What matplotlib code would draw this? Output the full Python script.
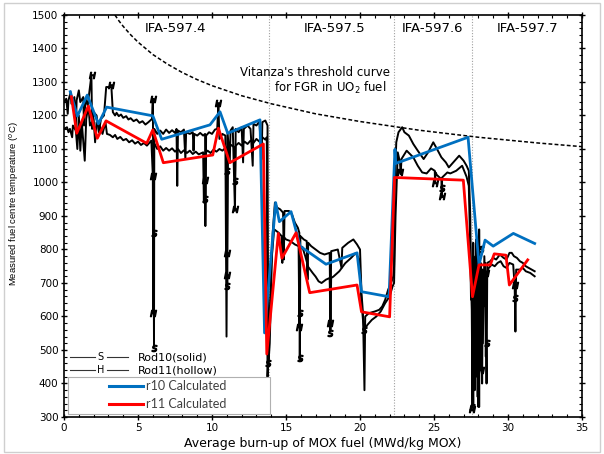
import matplotlib
matplotlib.use("Agg")
import matplotlib.pyplot as plt
from matplotlib.patches import Rectangle

# measured centre temperature, rod 10 (solid), per campaign
bu_rod10_c4 = [0.0, 0.15, 0.25, 0.3, 0.45, 0.5, 0.7, 0.8, 0.85, 1.0,
               1.1, 1.3, 1.35, 1.45, 1.6, 1.85, 1.9, 2.0, 2.2, 2.35,
               2.5, 2.7, 2.85, 3.2, 3.3, 3.45, 3.55, 3.7, 3.85, 4.0,
               4.2, 4.35, 4.5, 4.7, 4.9, 5.1, 5.3, 5.5, 5.7, 5.95,
               6.0, 6.05, 6.08, 6.1, 6.3, 6.5, 6.7, 6.9, 7.1, 7.3,
               7.5, 7.6, 7.65, 7.7, 7.9, 8.1, 8.2, 8.25, 8.5, 8.7,
               8.75, 8.8, 9.0, 9.2, 9.4, 9.53, 9.55, 9.6, 9.8, 10.0,
               10.2, 10.35, 10.43, 10.5, 10.7, 10.9, 10.98, 11.05, 11.2, 11.25,
               11.4, 11.55, 11.6, 11.8, 12.0, 12.1, 12.15, 12.4, 12.6, 12.75,
               12.8, 13.0, 13.2, 13.35, 13.4, 13.6, 13.75]
t_rod10_c4 = [1240, 1250, 1205, 1245, 1270, 1235, 1255, 1150, 1245, 1275,
              1240, 1255, 1170, 1250, 1230, 1320, 1160, 1210, 1200, 1150,
              1190, 1200, 1285, 1285, 1210, 1200, 1208, 1198, 1203, 1193,
              1198, 1188, 1192, 1183, 1188, 1178, 1183, 1173, 1180, 1190,
              1250, 850, 510, 1160, 1145, 1155, 1145, 1158, 1148, 1156,
              1148, 1160, 990, 1155, 1150, 1158, 1070, 1150, 1145, 1150,
              1095, 1145, 1140, 1148, 1140, 1145, 870, 1140, 1150, 1145,
              1158, 1160, 1235, 1130, 1145, 1140, 540, 1150, 1060, 1155,
              1165, 915, 1160, 1150, 1165, 1060, 1160, 1170, 1160, 1050,
              1175, 1170, 1182, 1070, 1180, 1185, 1170]
bu_rod10_c5 = [13.8, 13.9, 14.0, 14.1, 14.25, 14.4, 14.6, 14.8, 14.85, 14.9,
               15.2, 15.4, 15.6, 15.8, 15.9, 15.93, 15.97, 16.2, 16.4, 16.45,
               16.5, 16.7, 17.0, 17.3, 17.6, 17.95, 18.0, 18.05, 18.5, 18.75,
               18.8, 19.2, 19.55, 19.8, 20.0, 20.1, 20.2, 20.3, 20.35, 20.6,
               21.0, 21.3, 21.5, 21.7, 21.9, 22.1, 22.25]
t_rod10_c5 = [450, 520, 700, 850, 940, 925, 920, 910, 770, 915,
              915, 905, 880, 865, 850, 470, 840, 830, 825, 710,
              820, 810, 800, 790, 785, 790, 560, 795, 800, 745,
              805, 820, 830, 815, 800, 670, 610, 380, 600, 610,
              615, 620, 630, 650, 680, 700, 720]
bu_rod10_c6 = [22.3, 22.35, 22.45, 22.6, 22.85, 23.0, 23.3, 23.6, 23.9, 24.3,
               24.6, 24.95, 25.2, 25.5, 25.8, 26.0, 26.3, 26.7, 27.0, 27.2,
               27.35, 27.45, 27.5]
t_rod10_c6 = [750, 1000, 1120, 1150, 1165, 1150, 1140, 1115, 1095, 1070,
              1090, 1120, 1100, 1075, 1060, 1045, 1060, 1080, 1065, 1050,
              1035, 900, 700]
bu_rod10_c7 = [27.55, 27.6, 27.65, 27.7, 27.75, 27.8, 27.85, 27.9, 27.95, 28.0,
               28.05, 28.1, 28.15, 28.2, 28.25, 28.3, 28.4, 28.5, 28.55, 28.6,
               28.8, 29.0, 29.2, 29.45, 29.7, 29.9, 30.1, 30.25, 30.4, 30.6,
               30.8, 31.0, 31.2, 31.4, 31.6, 31.8]
t_rod10_c7 = [620, 330, 820, 480, 760, 560, 830, 420, 700, 330,
              860, 600, 760, 450, 740, 520, 780, 620, 400, 760,
              765, 775, 770, 785, 775, 770, 790, 790, 780, 775,
              765, 760, 750, 745, 740, 735]

# measured centre temperature, rod 11 (hollow), per campaign
bu_rod11_c4 = [0.0, 0.2, 0.3, 0.4, 0.55, 0.6, 0.8, 0.9, 1.0, 1.1,
               1.2, 1.4, 1.5, 1.65, 1.75, 2.0, 2.1, 2.2, 2.4, 2.6,
               2.8, 2.9, 3.1, 3.3, 3.45, 3.6, 3.8, 4.0, 4.2, 4.4,
               4.6, 4.8, 5.0, 5.2, 5.4, 5.6, 5.9, 6.0, 6.03, 6.06,
               6.3, 6.5, 6.7, 6.9, 7.1, 7.3, 7.5, 7.7, 7.9, 8.1,
               8.3, 8.5, 8.7, 8.9, 9.1, 9.4, 9.45, 9.5, 9.7, 9.9,
               10.1, 10.3, 10.5, 10.7, 10.95, 11.0, 11.03, 11.08, 11.3, 11.5,
               11.55, 11.6, 11.8, 12.0, 12.2, 12.4, 12.6, 12.8, 13.0, 13.2,
               13.4, 13.6, 13.7, 13.75, 13.8]
t_rod11_c4 = [1160, 1165, 1150, 1160, 1135, 1170, 1155, 1100, 1200, 1095,
              1180, 1065, 1190, 1230, 1170, 1190, 1120, 1180, 1170, 1145,
              1180, 1145, 1142, 1135, 1142, 1130, 1136, 1126, 1130, 1120,
              1126, 1116, 1122, 1112, 1118, 1110, 1125, 1020, 610, 1120,
              1100, 1108, 1095, 1103, 1095, 1102, 1092, 1100, 1088, 1096,
              1088, 1095, 1085, 1092, 1084, 1090, 940, 1085, 1095, 1088,
              1098, 1092, 1100, 1095, 1105, 790, 690, 1100, 1112, 1105,
              1000, 1110, 1118, 1110, 1122, 1115, 1125, 1118, 1130, 1122,
              1135, 1128, 1135, 420, 470]
bu_rod11_c5 = [13.9, 14.0, 14.2, 14.5, 14.7, 14.75, 14.8, 15.0, 15.3, 15.6,
               15.85, 15.9, 15.95, 16.1, 16.3, 16.5, 16.8, 17.0, 17.2, 17.4,
               17.7, 17.95, 18.0, 18.05, 18.2, 18.6, 19.0, 19.4, 19.7, 19.95,
               20.1, 20.2, 20.3, 20.5, 20.8, 21.1, 21.4, 21.7, 22.0, 22.2]
t_rod11_c5 = [600, 760, 860, 850, 840, 760, 840, 830, 825, 815,
              810, 570, 800, 808, 780, 748, 730, 719, 705, 700,
              710, 715, 580, 715, 719, 735, 759, 775, 789, 770,
              640, 590, 560, 575, 590, 600, 615, 640, 660, 690]
bu_rod11_c6 = [22.3, 22.4, 22.55, 22.7, 22.75, 22.8, 23.15, 23.6, 23.9, 24.2,
               24.5, 24.8, 25.05, 25.07, 25.1, 25.2, 25.5, 25.52, 25.55, 25.9,
               26.1, 26.5, 26.9, 27.2, 27.35, 27.45, 27.5]
t_rod11_c6 = [700, 900, 1090, 1060, 1025, 1070, 1095, 1075, 1050, 1030,
              1027, 1042, 1035, 1000, 1030, 1022, 1010, 955, 1015, 1030,
              1027, 1035, 1050, 1017, 990, 800, 650]
bu_rod11_c7 = [27.55, 27.6, 27.65, 27.7, 27.75, 27.8, 27.85, 27.9, 27.95, 28.0,
               28.05, 28.1, 28.15, 28.2, 28.25, 28.3, 28.35, 28.45, 28.5, 28.55,
               28.7, 28.9, 29.1, 29.3, 29.5, 29.7, 29.9, 30.1, 30.35, 30.45,
               30.5, 30.55, 30.8, 31.0, 31.2, 31.5, 31.8]
t_rod11_c7 = [700, 560, 340, 700, 380, 780, 470, 740, 360, 790,
              330, 750, 560, 720, 400, 740, 630, 760, 480, 730,
              745, 755, 750, 760, 765, 750, 745, 760, 755, 690,
              555, 740, 740, 745, 735, 730, 720]

# "S" and "H" symbols on the measured traces
s_bu = [6.05, 6.08, 9.55, 11.0, 11.0, 11.55, 13.75, 15.93, 15.93, 18.0, 20.3, 25.52, 27.6, 27.7, 28.2, 28.55, 30.5]
s_t = [850, 505, 950, 1035, 690, 1005, 460, 610, 475, 550, 560, 985, 330, 440, 800, 520, 655]
h_bu = [1.87, 3.2, 6.04, 6.03, 6.03, 10.43, 9.5, 11.0, 11.0, 11.57, 15.9, 18.0, 22.7, 25.07, 25.52, 27.6, 28.2, 28.5, 30.5]
h_t = [1320, 1290, 1250, 1020, 610, 1238, 1007, 790, 725, 920, 570, 580, 1030, 998, 960, 325, 440, 730, 695]

# calculated centre temperatures
bu_r10_calc = [0.42, 0.9, 1.57, 2.32, 2.88, 6.0, 6.6, 9.86, 10.54, 11.06, 13.24, 13.55, 14.3, 14.55,
               15.34, 15.95, 17.7, 19.8, 20.1, 21.96, 22.36, 22.42, 27.3, 28.04, 28.45, 29.0, 30.36, 31.8]
t_r10_calc = [1271, 1198, 1261, 1175, 1225, 1199, 1129, 1172, 1211, 1147, 1187, 551, 940, 883,
              913, 810, 756, 790, 674, 659, 1099, 1057, 1135, 754, 828, 810, 848, 818]
bu_r11_calc = [0.5, 0.86, 1.64, 2.25, 2.84, 5.59, 6.0, 6.71, 10.05, 10.43, 11.2, 13.47, 13.7, 14.48,
               14.72, 15.68, 16.6, 19.8, 20.1, 22.0, 22.33, 26.98, 27.6, 28.04, 28.8, 29.07, 29.86, 30.09, 31.33]
t_r11_calc = [1256, 1147, 1228, 1132, 1184, 1117, 1157, 1059, 1082, 1162, 1059, 1115, 488, 848,
              774, 850, 671, 694, 614, 599, 1015, 1007, 659, 754, 754, 787, 783, 694, 769]

# Vitanza threshold curve
bu_vitanza = [3.44, 3.7, 4.0, 4.5, 5.0, 6.0, 7.0, 8.0, 9.0, 10.0, 12.0, 14.0, 17.0, 20.0, 24.0, 28.0, 32.0, 35.0]
t_vitanza = [1500, 1483, 1466, 1441, 1419, 1382, 1353, 1328, 1307, 1289, 1259, 1235, 1205, 1182, 1156, 1135, 1118, 1107]

# irradiation campaigns
campaign_edges = [13.85, 22.3, 27.6]
campaign_names = ["IFA-597.4", "IFA-597.5", "IFA-597.6", "IFA-597.7"]
campaign_centres = [7.5, 18.3, 24.9, 31.35]

bu_rod10 = bu_rod10_c4 + bu_rod10_c5 + bu_rod10_c6 + bu_rod10_c7
t_rod10 = t_rod10_c4 + t_rod10_c5 + t_rod10_c6 + t_rod10_c7
bu_rod11 = bu_rod11_c4 + bu_rod11_c5 + bu_rod11_c6 + bu_rod11_c7
t_rod11 = t_rod11_c4 + t_rod11_c5 + t_rod11_c6 + t_rod11_c7

fig = plt.figure(figsize=(6.04, 4.54), dpi=100)
fig.patches.append(Rectangle((0.006, 0.004), 0.988, 0.99, transform=fig.transFigure,
                             fill=False, edgecolor="#cfcfcf", linewidth=1.0))
ax = fig.add_axes([0.106, 0.0815, 0.8576, 0.8855])

font = "DejaVu Sans"

for e in campaign_edges:
    ax.axvline(e, color="#a0a0a0", linestyle=(0, (1, 1.5)), linewidth=0.8, zorder=1)

ax.plot(bu_vitanza, t_vitanza, color="black", linestyle=(0, (2.5, 1.5)), linewidth=1.1, zorder=2)

ax.plot(bu_rod10, t_rod10, color="black", linewidth=1.4, zorder=3)
ax.plot(bu_rod11, t_rod11, color="black", linewidth=1.4, zorder=3)
ax.plot(s_bu, s_t, linestyle="none", marker="$S$", markersize=4.5, color="black", zorder=3)
ax.plot(h_bu, h_t, linestyle="none", marker="$H$", markersize=4.5, color="black", zorder=3)

ax.plot(bu_r10_calc, t_r10_calc, color="#0070C0", linewidth=2.0, zorder=4)
ax.plot(bu_r11_calc, t_r11_calc, color="#FF0000", linewidth=2.0, zorder=4)

for name, xc in zip(campaign_names, campaign_centres):
    ax.text(xc, 1461, name, ha="center", va="center", fontsize=9.5, family=font)

ax.text(22.0, 1327, "Vitanza's threshold curve", ha="right", va="center", fontsize=8.5, family=font)
ax.text(21.8, 1283, "for FGR in UO$_2$ fuel", ha="right", va="center", fontsize=8.5, family=font)

ax.set_xlim(0, 35)
ax.set_ylim(300, 1500)
ax.set_xticks(range(0, 36, 5))
ax.set_xticks(range(0, 36, 1), minor=True)
ax.set_yticks(range(300, 1501, 100))
ax.set_yticks(range(300, 1501, 20), minor=True)
ax.tick_params(which="major", direction="inout", length=5, width=1.0, top=True, right=True,
               labelsize=7.5, pad=1.5)
ax.tick_params(which="minor", direction="in", length=2.5, width=0.8, top=True, right=True)
for lab in ax.get_xticklabels() + ax.get_yticklabels():
    lab.set_family(font)
for sp in ax.spines.values():
    sp.set_linewidth(1.2)

ax.set_xlabel("Average burn-up of MOX fuel (MWd/kg MOX)", fontsize=9, family=font, labelpad=3)
ax.set_ylabel("Measured fuel centre temperature ($^o$C)", fontsize=6.8, family="Liberation Sans")
ax.yaxis.set_label_coords(-0.083, 0.532)

# measured-rod legend rows
for ty, sym, lbl in [(0.149, "S", "Rod10(solid)"), (0.116, "H", "Rod11(hollow)")]:
    ax.plot([0.012, 0.06], [ty, ty], color="#333333", linewidth=0.8, transform=ax.transAxes)
    ax.plot([0.083, 0.124], [ty, ty], color="#333333", linewidth=0.8, transform=ax.transAxes)
    ax.text(0.071, ty, sym, ha="center", va="center", fontsize=7, family=font, transform=ax.transAxes)
    ax.text(0.143, ty, lbl, ha="left", va="center", fontsize=8, family=font, transform=ax.transAxes)

# calculated legend box
ax.add_patch(Rectangle((0.008, 0.0075), 0.39, 0.092, transform=ax.transAxes, facecolor="white",
                       edgecolor="#b0b0b0", linewidth=0.8, zorder=5))
for ty, col, lbl in [(0.077, "#0070C0", "r10 Calculated"), (0.032, "#FF0000", "r11 Calculated")]:
    ax.plot([0.087, 0.152], [ty, ty], color=col, linewidth=2.2, transform=ax.transAxes, zorder=6)
    ax.text(0.158, ty, lbl, ha="left", va="center", fontsize=9, family="Lato", color="#404040",
            transform=ax.transAxes, zorder=6)

fig.savefig("out.png", dpi=100)
